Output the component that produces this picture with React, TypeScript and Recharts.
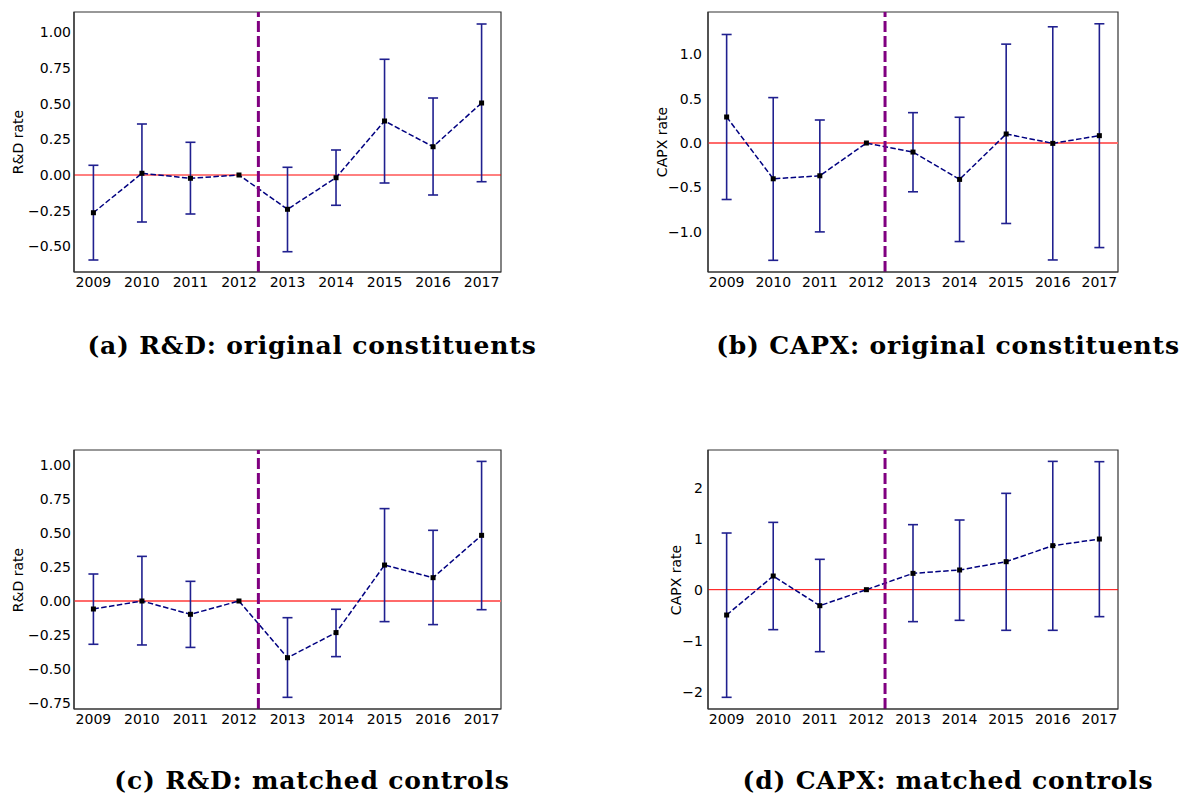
import React from 'react';
import { LineChart, Line, XAxis, YAxis, ErrorBar, ReferenceLine, ReferenceArea } from 'recharts';

const years = [2009, 2010, 2011, 2012, 2013, 2014, 2015, 2016, 2017];
const eventYear = 2012.4;
const xDomain: [number, number] = [2008.6, 2017.4];

// (a) R&D: original constituents
const rdOrigEst = [-0.264, 0.012, -0.023, 0, -0.24, -0.019, 0.378, 0.198, 0.504];
const rdOrigLow = [-0.595, -0.329, -0.273, 0, -0.537, -0.212, -0.056, -0.14, -0.047];
const rdOrigHigh = [0.068, 0.357, 0.229, 0, 0.054, 0.175, 0.81, 0.539, 1.057];
const rdOrigTicks = [-0.5, -0.25, 0, 0.25, 0.5, 0.75, 1.0];

// (b) CAPX: original constituents
const capxOrigEst = [0.294, -0.404, -0.37, 0, -0.102, -0.411, 0.102, -0.004, 0.083];
const capxOrigLow = [-0.638, -1.325, -1.004, 0, -0.551, -1.113, -0.909, -1.321, -1.181];
const capxOrigHigh = [1.226, 0.513, 0.26, 0, 0.343, 0.291, 1.117, 1.313, 1.347];
const capxOrigTicks = [-1.0, -0.5, 0, 0.5, 1.0];

// (c) R&D: matched controls
const rdMatchEst = [-0.059, 0.0, -0.098, 0, -0.418, -0.233, 0.265, 0.172, 0.484];
const rdMatchLow = [-0.319, -0.324, -0.342, 0, -0.71, -0.41, -0.152, -0.174, -0.064];
const rdMatchHigh = [0.199, 0.329, 0.145, 0, -0.123, -0.061, 0.681, 0.521, 1.029];
const rdMatchTicks = [-0.75, -0.5, -0.25, 0, 0.25, 0.5, 0.75, 1.0];

// (d) CAPX: matched controls
const capxMatchEst = [-0.497, 0.268, -0.314, 0, 0.32, 0.386, 0.549, 0.863, 0.993];
const capxMatchLow = [-2.111, -0.784, -1.216, 0, -0.627, -0.601, -0.797, -0.797, -0.529];
const capxMatchHigh = [1.111, 1.32, 0.595, 0, 1.275, 1.366, 1.889, 2.516, 2.51];
const capxMatchTicks = [-2, -1, 0, 1, 2];

const captions = [
  '(a) R&D: original constituents',
  '(b) CAPX: original constituents',
  '(c) R&D: matched controls',
  '(d) CAPX: matched controls',
];

const buildData = (est: number[], low: number[], high: number[]) =>
  years.map((year, i) => ({
    year,
    est: est[i],
    err: low[i] === high[i] ? undefined : [est[i] - low[i], high[i] - est[i]],
  }));

const minus = (s: string) => s.replace('-', '\u2212');

const SquareDot = (props: any) => {
  const { cx, cy, index } = props;
  if (cx == null || cy == null) return <g key={`d${index}`} />;
  return <rect key={`d${index}`} x={cx - 2.5} y={cy - 2.5} width={5} height={5} fill="#000" />;
};

const font = 'DejaVu Sans, sans-serif';

interface PanelProps {
  left: number;
  top: number;
  height: number;
  marginTop: number;
  marginRight: number;
  yWidth: number;
  xHeight: number;
  domain: [number, number];
  ticks: number[];
  digits: number;
  tickGap: number;
  label: string;
  labelX: number;
  data: any[];
  zeroColor: string;
  zeroWidth: number;
}

const Panel: React.FC<PanelProps> = (p) => {
  const width = 520;
  const plotTop = p.marginTop;
  const plotBottom = p.height - p.xHeight;
  return (
    <div style={{ position: 'absolute', left: p.left, top: p.top, width, height: p.height }}>
      <LineChart
        width={width}
        height={p.height}
        data={p.data}
        margin={{ top: p.marginTop, right: p.marginRight, left: 0, bottom: 0 }}
      >
        <XAxis
          dataKey="year"
          type="number"
          domain={xDomain}
          ticks={years}
          allowDataOverflow
          height={p.xHeight}
          tickLine={false}
          tickSize={3}
          tickMargin={2}
          axisLine={{ stroke: '#333', strokeWidth: 1.2 }}
          tick={{ fill: '#000', fontSize: 14, fontFamily: font }}
          interval={0}
        />
        <YAxis
          type="number"
          domain={p.domain}
          ticks={p.ticks}
          allowDataOverflow
          width={p.yWidth}
          tickLine={false}
          tickSize={0}
          tickMargin={p.tickGap}
          interval={0}
          axisLine={{ stroke: '#333', strokeWidth: 1.2 }}
          tick={{ fill: '#000', fontSize: 14, fontFamily: font }}
          tickFormatter={(v: number) => minus(v.toFixed(p.digits))}
        />
        {/* plot frame */}
        <ReferenceArea
          x1={xDomain[0]}
          x2={xDomain[1]}
          y1={p.domain[0]}
          y2={p.domain[1]}
          fill="none"
          fillOpacity={0}
          stroke="#333"
          strokeWidth={1.2}
          ifOverflow="visible"
        />
        <ReferenceLine y={0} stroke={p.zeroColor} strokeWidth={p.zeroWidth} />
        <Line
          dataKey="est"
          stroke="#000080"
          strokeWidth={1.5}
          strokeDasharray="5.5 2.4"
          dot={SquareDot}
          activeDot={false}
          isAnimationActive={false}
        >
          <ErrorBar dataKey="err" direction="y" width={5} stroke="#20208f" strokeWidth={1.6} />
        </Line>
        <ReferenceLine x={eventYear} stroke="#800080" strokeWidth={3} strokeDasharray="11 4" />
      </LineChart>
      <div
        style={{
          position: 'absolute',
          left: p.labelX - 60,
          top: (plotTop + plotBottom) / 2 - 10,
          width: 120,
          height: 20,
          lineHeight: '20px',
          textAlign: 'center',
          fontFamily: font,
          fontSize: 14,
          color: '#000',
          transform: 'rotate(-90deg)',
          whiteSpace: 'nowrap',
        }}
      >
        {p.label}
      </div>
    </div>
  );
};

const Caption: React.FC<{ text: string; cx: number; cy: number }> = ({ text, cx, cy }) => (
  <div
    style={{
      position: 'absolute',
      left: cx - 300,
      top: cy - 17,
      width: 600,
      height: 34,
      lineHeight: '34px',
      textAlign: 'center',
      fontFamily: 'DejaVu Serif, serif',
      fontWeight: 'bold',
      fontSize: 25,
      letterSpacing: '0.8px',
      color: '#000',
      whiteSpace: 'nowrap',
    }}
  >
    {text}
  </div>
);

export default function App() {
  return (
    <div style={{ position: 'absolute', left: 0, top: 0, width: 1185, height: 799, background: '#fff', overflow: 'hidden' }}>
      <Panel
        left={0}
        top={0}
        height={300}
        marginTop={12}
        marginRight={19}
        yWidth={74}
        xHeight={28}
        domain={[-0.679, 1.141]}
        ticks={rdOrigTicks}
        digits={2}
        tickGap={3}
        label="R&D rate"
        labelX={18}
        data={buildData(rdOrigEst, rdOrigLow, rdOrigHigh)}
        zeroColor="#ff0000"
        zeroWidth={1}
      />
      <Panel
        left={620}
        top={0}
        height={300}
        marginTop={12}
        marginRight={22}
        yWidth={88}
        xHeight={28}
        domain={[-1.457, 1.48]}
        ticks={capxOrigTicks}
        digits={1}
        tickGap={6}
        label="CAPX rate"
        labelX={42}
        data={buildData(capxOrigEst, capxOrigLow, capxOrigHigh)}
        zeroColor="#ff6a6a"
        zeroWidth={1.8}
      />
      <Panel
        left={0}
        top={430}
        height={310}
        marginTop={20}
        marginRight={19}
        yWidth={74}
        xHeight={31}
        domain={[-0.796, 1.113]}
        ticks={rdMatchTicks}
        digits={2}
        tickGap={3}
        label="R&D rate"
        labelX={18}
        data={buildData(rdMatchEst, rdMatchLow, rdMatchHigh)}
        zeroColor="#ff6a6a"
        zeroWidth={1.8}
      />
      <Panel
        left={620}
        top={430}
        height={310}
        marginTop={20}
        marginRight={22}
        yWidth={88}
        xHeight={31}
        domain={[-2.34, 2.739]}
        ticks={capxMatchTicks}
        digits={0}
        tickGap={5}
        label="CAPX rate"
        labelX={56}
        data={buildData(capxMatchEst, capxMatchLow, capxMatchHigh)}
        zeroColor="#ff0000"
        zeroWidth={1}
      />
      <Caption text={captions[0]} cx={312} cy={346} />
      <Caption text={captions[1]} cx={948} cy={346} />
      <Caption text={captions[2]} cx={312} cy={781} />
      <Caption text={captions[3]} cx={948} cy={781} />
    </div>
  );
}
